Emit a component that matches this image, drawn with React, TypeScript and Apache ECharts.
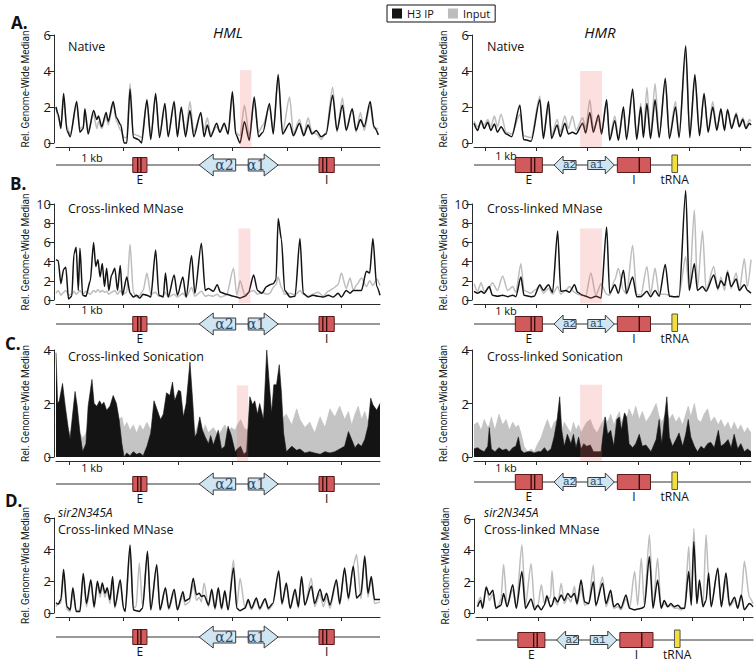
import React, { useEffect, useRef } from 'react';
import * as echarts from 'echarts';

// ---------------- DATA ----------------
// Positions in kb (0 = first 1-kb tick), values = relative genome-wide median

// A. Native, HML
const hmlNativeX = [-0.24,-0.20,-0.15,-0.10,-0.04,0.02,0.14,0.20,0.26,0.29,0.35,0.45,0.51,0.54,0.60,0.68,0.72,0.81,0.87,0.95,1.01,1.06,1.12,1.18,1.27,1.33,1.43,1.50,1.59,1.66,1.76,1.82,1.93,1.99,2.06,2.14,2.22,2.29,2.42,2.48,2.54,2.60,2.71,2.77,2.85,2.92,3.00,3.06,3.14,3.22,3.31,3.40,3.48,3.56,3.68,3.75,3.84,3.92,4.05,4.12,4.23,4.31,4.39,4.46,4.54,4.63,4.72,4.84,4.92,5.02,5.09,5.20,5.27,5.35,5.42,5.53,5.60,5.68];
const hmlNativeIP = [2.0,1.6,0.8,2.75,0.7,0.35,2.3,0.6,0.8,1.9,0.5,1.8,1.3,1.5,0.9,1.7,1.2,2.3,1.4,1.0,0.0,0.0,3.0,0.3,0.2,0.0,2.4,0.2,2.75,0.3,2.2,0.35,2.3,0.35,2.0,0.35,1.8,0.35,1.7,0.35,1.0,0.35,1.1,0.6,1.1,0.5,2.85,0.5,0.0,1.2,0.15,2.55,0.35,0.6,2.2,0.5,3.8,0.5,1.1,0.4,1.1,0.4,1.0,0.5,0.7,0.35,0.5,2.65,0.7,2.1,0.7,1.9,0.7,1.3,0.9,2.3,0.9,0.45];
const hmlNativeInput = [2.0,1.4,1.0,2.4,0.9,0.5,2.1,0.8,0.9,1.7,0.7,1.6,0.8,1.2,0.8,1.5,1.0,2.2,1.2,0.7,0.3,0.3,3.3,0.5,0.4,0.3,2.3,0.4,2.6,0.5,2.0,0.5,2.1,0.5,1.9,0.6,2.3,0.6,1.6,0.7,1.4,0.5,0.9,0.6,1.0,0.5,2.6,0.6,0.4,2.1,0.4,2.3,0.6,1.0,2.0,0.7,3.6,0.6,2.55,0.5,1.3,0.5,1.4,0.6,0.5,0.2,0.6,3.1,0.6,2.5,0.8,1.9,0.6,1.7,0.7,2.1,0.8,0.8];

// A. Native, HMR
const hmrNativeX = [-0.22,-0.15,-0.08,-0.02,0.05,0.11,0.18,0.24,0.31,0.41,0.52,0.68,0.75,0.90,1.07,1.14,1.24,1.30,1.41,1.47,1.56,1.63,1.71,1.78,1.91,1.97,2.05,2.12,2.22,2.28,2.38,2.44,2.54,2.61,2.71,2.77,2.89,2.97,3.05,3.10,3.17,3.24,3.33,3.41,3.53,3.61,3.73,3.80,3.93,4.01,4.11,4.20,4.29,4.37,4.46,4.54,4.62,4.69,4.75,4.83,4.92,4.98,5.05,5.11,5.18,5.21];
const hmrNativeIP = [1.1,0.7,1.25,0.8,1.15,0.7,1.05,0.6,0.9,0.5,0.35,2.1,0.2,0.1,2.4,0.25,2.3,0.25,1.0,0.35,1.1,0.5,0.6,0.5,1.1,0.55,1.7,0.6,1.55,0.5,2.4,0.15,1.25,0.15,2.0,0.2,3.0,0.2,2.0,0.3,2.2,0.25,2.4,0.3,3.6,0.25,2.0,0.3,5.4,0.3,3.8,0.4,2.75,0.6,2.0,0.7,1.9,0.7,1.85,0.8,1.6,0.9,1.3,0.8,1.1,1.0];
const hmrNativeInput = [1.2,0.9,1.1,1.0,1.3,0.9,1.5,0.9,1.6,0.6,0.5,1.6,0.4,0.3,2.6,0.4,2.0,0.4,1.3,0.6,1.5,0.8,1.5,0.7,1.4,0.8,2.4,0.8,1.3,0.6,2.2,0.3,1.5,0.3,1.7,0.3,2.8,0.3,2.2,0.4,3.1,0.4,3.3,0.4,3.4,0.4,2.3,0.4,5.0,0.5,3.6,0.5,2.6,0.7,2.3,0.8,1.8,0.8,1.9,0.9,1.7,1.0,1.4,0.9,1.3,1.2];

// B. Cross-linked MNase, HML
const hmlMnaseX = [-0.24,-0.20,-0.15,-0.10,-0.06,-0.01,0.05,0.09,0.13,0.17,0.20,0.25,0.31,0.39,0.45,0.49,0.53,0.57,0.61,0.65,0.69,0.73,0.78,0.84,0.89,0.94,0.98,1.06,1.12,1.18,1.24,1.30,1.36,1.43,1.50,1.59,1.65,1.73,1.77,1.82,1.93,1.99,2.09,2.15,2.25,2.31,2.43,2.50,2.56,2.65,2.72,2.78,2.89,3.02,3.08,3.14,3.23,3.29,3.39,3.46,3.54,3.63,3.69,3.75,3.80,3.84,3.90,3.96,4.06,4.15,4.24,4.30,4.39,4.48,4.57,4.67,4.76,4.85,4.94,5.00,5.09,5.16,5.22,5.28,5.37,5.46,5.52,5.58,5.65,5.71];
const hmlMnaseIP = [4.2,4.1,1.7,3.2,3.4,0.1,0.4,4.8,5.5,1.0,5.4,0.5,0.4,2.0,6.0,3.5,4.2,2.4,3.8,1.4,3.3,1.0,2.6,3.3,1.0,3.6,0.5,2.4,0.7,0.3,0.5,0.2,0.6,0.5,0.3,5.2,0.5,0.3,2.8,0.3,2.6,0.5,2.4,0.3,4.6,0.7,5.9,1.0,1.2,0.9,1.6,0.8,0.6,0.4,0.3,0.2,0.4,0.7,2.6,1.0,0.7,1.4,1.6,1.7,2.1,8.5,6.3,1.0,0.3,0.4,6.4,0.7,0.3,0.5,0.4,0.3,0.5,0.3,0.7,0.3,1.0,0.7,1.0,1.0,1.0,3.0,2.8,6.4,1.4,0.5];
const hmlMnaseInput = [0.7,1.0,0.5,0.8,1.0,0.5,0.6,0.9,0.6,0.8,1.0,0.6,0.9,0.6,1.0,0.8,1.1,0.8,1.0,0.8,0.9,0.6,0.8,1.0,0.6,1.0,0.6,0.8,5.8,0.8,0.3,0.5,1.0,2.8,0.6,0.8,0.4,0.5,0.8,0.3,0.6,0.3,0.7,0.3,1.3,0.4,0.9,0.4,0.5,0.4,0.6,0.3,0.5,3.3,0.5,2.0,0.5,0.8,1.0,0.6,0.8,0.6,0.7,1.3,1.6,2.4,1.3,0.6,0.7,0.5,1.0,0.6,0.4,0.6,0.8,0.4,0.9,1.2,1.6,2.8,1.2,2.3,1.0,1.6,2.3,1.4,2.0,1.5,2.2,1.5];

// B. Cross-linked MNase, HMR
const hmrMnaseX = [-0.22,-0.15,-0.08,-0.02,0.08,0.14,0.24,0.34,0.44,0.54,0.60,0.70,0.76,0.90,0.96,1.07,1.14,1.24,1.32,1.42,1.48,1.58,1.65,1.75,1.81,1.91,1.97,2.07,2.17,2.27,2.38,2.44,2.54,2.61,2.71,2.77,2.89,2.97,3.05,3.17,3.24,3.33,3.41,3.53,3.61,3.71,3.80,3.93,4.00,4.10,4.16,4.26,4.33,4.48,4.56,4.62,4.69,4.75,4.82,4.92,4.98,5.08,5.14,5.21];
const hmrMnaseIP = [0.9,0.7,0.9,0.7,1.4,0.5,0.4,0.5,0.35,0.5,0.35,2.4,0.5,0.35,0.4,1.6,1.0,1.6,0.8,7.2,0.9,1.0,0.8,1.6,0.8,0.5,0.4,0.2,0.4,0.2,7.6,0.7,1.6,0.7,3.1,0.7,2.4,0.35,0.35,0.9,0.35,1.0,0.4,3.7,0.4,0.35,0.35,11.4,1.0,3.8,1.0,1.4,0.9,2.6,1.2,2.0,1.5,2.9,1.4,2.2,1.0,1.6,1.0,0.7];
const hmrMnaseInput = [1.7,0.9,1.8,0.9,1.3,1.8,1.0,2.5,1.0,1.4,0.8,3.8,1.0,0.7,1.0,1.4,0.7,1.2,0.6,1.4,0.6,1.0,1.4,0.8,0.6,0.5,0.4,2.8,0.5,1.7,0.6,0.5,2.1,3.3,1.0,0.6,5.7,0.6,0.5,3.5,0.6,3.3,0.6,0.6,0.5,0.3,0.5,4.5,1.0,9.4,1.2,7.2,1.0,3.5,1.0,2.4,1.0,3.1,1.2,2.8,1.0,4.3,1.4,4.2];

// C. Cross-linked Sonication, HML
const hmlSonicX = [-0.24,-0.21,-0.18,-0.12,-0.07,-0.01,0.02,0.05,0.11,0.15,0.20,0.25,0.31,0.35,0.42,0.46,0.51,0.56,0.60,0.64,0.69,0.75,0.81,0.87,0.92,0.97,1.01,1.06,1.12,1.18,1.24,1.30,1.36,1.43,1.50,1.56,1.62,1.68,1.73,1.79,1.85,1.90,1.94,2.01,2.05,2.10,2.15,2.22,2.27,2.31,2.35,2.40,2.45,2.50,2.56,2.60,2.65,2.74,2.80,2.86,2.92,2.98,3.05,3.09,3.15,3.21,3.26,3.32,3.37,3.41,3.46,3.50,3.57,3.63,3.68,3.72,3.76,3.81,3.86,3.90,3.94,3.99,4.09,4.18,4.24,4.33,4.42,4.51,4.61,4.70,4.79,4.88,4.97,5.06,5.13,5.19,5.25,5.31,5.37,5.43,5.49,5.54,5.58,5.65,5.71];
const hmlSonicIP = [3.9,2.0,2.1,2.75,1.9,1.0,0.65,1.3,2.45,1.9,0.9,0.2,0.5,1.9,2.9,2.0,1.9,2.1,1.95,2.05,1.75,1.9,2.3,2.0,1.4,0.5,0.0,0.15,0.05,0.2,0.1,0.15,0.05,0.4,0.9,2.1,1.75,1.4,1.6,2.4,2.3,2.8,2.1,2.5,2.45,1.5,2.0,3.55,2.1,0.75,0.9,1.5,1.0,0.75,0.5,0.8,0.45,1.0,0.3,0.4,1.15,0.8,0.2,0.3,0.4,0.1,0.2,2.25,1.95,2.1,1.6,2.0,1.4,4.0,2.65,1.65,2.7,2.7,3.45,2.4,0.9,0.2,0.4,0.25,0.3,0.15,0.2,0.15,0.1,0.2,0.15,0.2,0.3,0.4,0.95,0.65,0.35,0.5,0.4,0.65,1.15,2.2,1.95,1.75,2.0];
const hmlSonicInput = [1.2,1.0,1.3,1.1,1.4,1.0,0.9,1.2,1.0,1.3,0.9,0.7,0.9,1.1,1.0,1.2,1.0,1.3,1.1,1.0,1.2,0.9,1.1,1.2,1.4,1.5,1.1,1.3,1.0,1.2,0.9,1.2,1.0,1.3,1.0,1.2,0.9,1.1,1.0,1.2,0.9,1.1,1.0,1.2,0.9,1.1,1.0,1.2,1.0,0.9,1.1,1.4,0.9,1.2,0.9,1.0,1.1,0.8,1.0,1.2,0.9,1.1,1.0,1.2,1.4,1.1,1.0,1.2,1.0,1.1,0.9,1.0,1.1,1.0,0.9,1.2,1.0,1.1,1.0,1.2,1.5,1.6,1.2,1.8,1.4,1.1,1.3,0.9,1.5,1.1,1.8,1.5,1.9,1.4,1.7,1.2,1.6,1.9,1.4,1.7,1.3,1.5,1.8,1.5,1.2];

// C. Cross-linked Sonication, HMR
const hmrSonicX = [-0.22,-0.15,-0.08,-0.02,0.05,0.08,0.12,0.19,0.27,0.34,0.41,0.47,0.54,0.60,0.65,0.70,0.76,0.83,0.90,0.96,1.03,1.09,1.16,1.22,1.29,1.35,1.41,1.46,1.50,1.55,1.61,1.68,1.73,1.78,1.83,1.88,1.93,1.99,2.06,2.12,2.19,2.27,2.35,2.40,2.46,2.52,2.58,2.63,2.67,2.73,2.77,2.82,2.89,2.95,3.02,3.08,3.15,3.25,3.35,3.41,3.46,3.56,3.61,3.67,3.74,3.80,3.87,3.93,3.98,4.03,4.10,4.16,4.23,4.29,4.36,4.42,4.49,4.57,4.62,4.69,4.76,4.82,4.88,4.95,5.01,5.08,5.14,5.21];
const hmrSonicIP = [0.3,0.35,0.25,0.2,0.4,1.1,0.3,0.2,0.35,0.25,0.3,0.2,0.35,0.4,0.75,0.25,0.15,0.2,0.2,0.15,0.2,0.2,0.35,0.2,0.3,0.75,1.4,2.25,1.0,0.4,0.85,0.5,0.85,0.35,0.75,0.3,0.5,0.4,0.45,0.2,0.2,0.2,1.5,0.85,1.0,0.4,1.4,1.5,1.0,1.65,1.5,0.5,0.35,0.5,0.85,0.4,0.45,0.2,0.65,1.4,0.5,2.25,0.75,0.4,0.65,0.9,0.4,0.85,1.4,0.75,0.4,0.2,0.4,0.3,0.5,0.55,0.35,1.0,0.4,0.5,0.65,0.35,0.85,0.3,0.5,0.2,0.3,0.2];
const hmrSonicInput = [1.2,1.3,1.0,1.4,1.1,1.2,1.5,1.0,1.6,1.2,1.4,1.0,1.3,1.1,1.2,0.9,0.4,0.2,0.3,0.2,0.5,0.7,1.1,1.4,1.0,1.3,1.4,1.2,1.0,1.3,1.1,0.9,1.3,1.0,1.2,0.9,1.1,1.3,1.4,1.1,0.9,1.2,1.5,1.3,1.6,1.2,1.5,1.7,1.3,1.6,1.4,1.8,1.5,1.9,1.4,1.7,1.3,1.6,2.0,1.5,1.3,1.7,1.4,1.6,1.3,1.5,1.2,1.6,1.9,1.5,2.0,1.4,1.3,1.6,1.8,1.3,1.5,1.2,1.4,1.1,1.3,1.0,1.3,1.0,1.2,0.9,1.1,0.9];

// D. sir2N345A Cross-linked MNase, HML
const hmlSirX = [-0.24,-0.20,-0.15,-0.10,-0.04,0.02,0.07,0.13,0.20,0.26,0.32,0.40,0.46,0.52,0.57,0.61,0.66,0.70,0.75,0.80,0.84,0.94,1.00,1.03,1.12,1.18,1.23,1.29,1.35,1.44,1.50,1.61,1.67,1.77,1.83,1.93,1.99,2.09,2.13,2.21,2.28,2.34,2.39,2.43,2.48,2.56,2.62,2.68,2.74,2.80,2.86,2.92,3.02,3.08,3.14,3.23,3.29,3.35,3.44,3.50,3.60,3.66,3.74,3.85,3.91,3.99,4.06,4.15,4.21,4.27,4.33,4.45,4.51,4.61,4.67,4.73,4.79,4.91,4.97,5.06,5.13,5.22,5.28,5.36,5.43,5.49,5.55,5.61,5.71];
const hmlSirIP = [0.65,0.55,0.85,2.75,0.4,0.2,1.6,0.1,0.1,2.5,0.6,2.1,0.4,2.0,1.25,1.9,1.25,1.6,0.85,2.3,0.4,2.1,0.3,0.1,4.3,0.2,0.15,0.1,0.3,3.9,0.2,3.05,0.2,1.6,0.3,1.5,0.2,1.35,0.75,0.9,2.2,1.15,1.25,1.05,1.1,0.5,1.5,0.3,1.6,0.3,1.4,0.2,2.85,0.3,0.15,0.3,0.85,0.3,0.95,0.3,0.9,0.3,0.6,2.65,0.6,1.9,0.3,1.5,0.4,2.3,0.5,1.7,0.6,1.5,0.75,1.25,0.5,2.1,0.6,2.85,0.95,2.95,0.95,1.2,3.6,1.25,2.3,0.85,0.85];
const hmlSirInput = [0.4,0.6,0.6,2.4,0.2,0.1,1.4,0.1,0.2,2.3,0.4,1.9,0.3,1.8,1.0,1.7,1.0,1.5,0.6,2.0,0.3,1.9,0.2,0.1,4.0,0.3,0.4,3.15,0.4,3.7,0.2,2.9,0.2,1.5,0.2,1.3,0.2,1.1,0.5,0.7,1.8,0.8,1.0,0.7,1.9,0.4,1.3,0.2,1.4,0.2,1.2,0.2,3.35,0.4,2.2,0.3,0.7,0.2,0.8,0.2,0.8,0.2,0.5,2.5,0.5,1.7,0.3,1.3,0.3,2.2,0.5,2.2,0.4,1.2,0.4,1.0,0.3,2.0,0.5,2.7,0.8,3.0,3.7,0.9,3.4,1.0,2.2,0.6,0.7];

// D. sir2N345A Cross-linked MNase, HMR
const hmrSirX = [-0.20,-0.14,-0.10,-0.03,0.03,0.10,0.16,0.21,0.26,0.31,0.38,0.49,0.56,0.67,0.74,0.85,0.92,0.98,1.05,1.11,1.16,1.23,1.26,1.31,1.37,1.44,1.50,1.57,1.63,1.70,1.75,1.83,1.90,1.98,2.07,2.12,2.25,2.32,2.41,2.47,2.55,2.61,2.71,2.78,2.88,2.94,3.01,3.07,3.17,3.24,3.33,3.40,3.46,3.53,3.59,3.66,3.73,3.79,3.86,3.94,3.99,4.04,4.10,4.15,4.22,4.28,4.33,4.38,4.51,4.58,4.67,4.74,4.84,4.90,4.97,5.03,5.13,5.20];
const hmrSirIP = [0.4,0.8,0.3,1.65,1.15,1.45,0.3,0.4,0.5,1.25,0.4,1.8,0.3,2.65,0.3,0.9,0.2,0.5,0.2,0.5,1.1,0.4,0.5,1.0,0.7,1.15,0.8,1.25,1.0,1.25,0.6,2.1,0.7,0.6,2.0,0.5,1.9,0.6,1.45,0.4,0.6,0.3,1.15,0.3,0.2,0.25,0.3,0.4,3.6,0.3,2.1,0.3,0.8,0.4,0.6,0.4,0.5,0.3,0.3,2.65,0.5,4.55,0.6,2.1,0.4,0.8,2.55,0.4,2.85,0.4,2.55,0.5,1.0,0.3,1.15,0.2,0.6,0.4];
const hmrSirInput = [0.6,1.0,0.4,1.7,0.8,1.2,0.3,0.5,0.9,3.1,0.5,1.5,0.4,4.35,0.5,3.15,0.4,0.4,1.8,0.6,0.8,1.0,2.7,0.8,0.5,1.9,0.6,1.0,0.7,1.7,0.5,1.6,0.5,0.6,3.05,0.4,2.3,0.4,1.15,0.3,0.4,0.2,0.9,0.3,2.65,0.5,3.5,0.5,5.0,0.4,3.5,0.3,0.6,0.4,0.5,0.3,0.3,0.2,0.3,4.25,0.6,5.4,0.6,1.8,0.5,5.0,2.2,0.5,2.75,0.4,2.1,0.4,0.8,0.3,1.0,3.3,1.0,0.6];

// Highlighted (pink) regions: [startKb, endKb, yLow, yHigh]
const hmlNativePink = [3.14, 3.35, -0.3, 4.05];
const hmrNativePink = [1.86, 2.29, -0.22, 4.0];
const hmlMnasePink = [3.11, 3.33, -0.35, 7.45];
const hmrMnasePink = [1.86, 2.29, -0.35, 7.45];
const hmlSonicPink = [3.08, 3.29, -0.16, 2.67];
const hmrSonicPink = [1.86, 2.29, -0.16, 2.7];

// Locus annotations (kb)
const hmlFeatures = [
  { kind: 'line', start: -0.24, end: 5.71 },
  { kind: 'box', start: 1.17, end: 1.43, bars: [1.26, 1.32], label: 'E' },
  { kind: 'arrowL', start: 2.39, end: 3.06, label: 'α2' },
  { kind: 'arrowR', start: 3.29, end: 3.84, label: 'α1' },
  { kind: 'box', start: 4.59, end: 4.87, bars: [4.66, 4.73], label: 'I' },
];
const hmrFeatures = [
  { kind: 'line', start: -0.22, end: 5.21 },
  { kind: 'box', start: 0.59, end: 1.12, bars: [0.90, 0.97], label: 'E' },
  { kind: 'arrowL', start: 1.35, end: 1.78, label: 'a2' },
  { kind: 'arrowR', start: 2.01, end: 2.53, label: 'a1' },
  { kind: 'box', start: 2.59, end: 3.24, bars: [3.02], label: 'I' },
  { kind: 'trna', start: 3.66, end: 3.77, label: 'tRNA' },
];

const KB_TICKS = [0, 1, 2, 3, 4, 5];
const Y_NAME = 'Rel. Genome-Wide Median';
const IP_NAME = 'H3 IP';
const INPUT_NAME = 'Input';

// ---------------- STYLE / LAYOUT ----------------
const BLACK = '#141414';
const GREY = '#bdbdbd';
const AXIS = '#2a2a2a';

const hmlStyle = { boxH: 7.5, bodyH: 6, headH: 11, headLen: 14, arrowFont: '14px "DejaVu Serif"', trnaTop: 11 };
const hmrStyle = { boxH: 7.5, bodyH: 4.5, headH: 9, headLen: 9, arrowFont: '11px "Liberation Mono"', trnaTop: 10 };

const zip = (xs: number[], ys: number[]) => xs.map((x, i) => [x, ys[i]]);

function geneRenderer(feats: any[], st: any) {
  return (params: any, api: any) => {
    const f = feats[params.dataIndex];
    const a = api.coord([api.value(0), 0]);
    const b = api.coord([api.value(1), 0]);
    const y = a[1];
    const x0 = a[0];
    const x1 = b[0];
    const children: any[] = [];
    const labelBelow = (cx: number, text: string) => ({
      type: 'text', x: cx, y: y + 14.5,
      style: { text, fill: '#111', font: '12px "Open Sans"', align: 'center', verticalAlign: 'middle' },
    });
    if (f.kind === 'line') {
      children.push({ type: 'line', shape: { x1: x0, y1: y, x2: x1, y2: y }, style: { stroke: '#333', lineWidth: 1 } });
    } else if (f.kind === 'box') {
      children.push({ type: 'rect', shape: { x: x0, y: y - st.boxH, width: x1 - x0, height: st.boxH * 2 }, style: { fill: '#d05a5c', stroke: '#5a1a1a', lineWidth: 1 } });
      (f.bars || []).forEach((bk: number) => {
        const p = api.coord([bk, 0]);
        children.push({ type: 'line', shape: { x1: p[0], y1: y - st.boxH, x2: p[0], y2: y + st.boxH }, style: { stroke: '#2e0a0a', lineWidth: 1.3 } });
      });
      children.push(labelBelow((x0 + x1) / 2, f.label));
    } else if (f.kind === 'arrowL' || f.kind === 'arrowR') {
      const h = st.headLen, bh = st.bodyH, hh = st.headH;
      let pts: number[][];
      let cx: number;
      if (f.kind === 'arrowL') {
        pts = [[x0, y], [x0 + h, y - hh], [x0 + h, y - bh], [x1, y - bh], [x1, y + bh], [x0 + h, y + bh], [x0 + h, y + hh]];
        cx = (x0 + h + x1) / 2;
      } else {
        pts = [[x1, y], [x1 - h, y - hh], [x1 - h, y - bh], [x0, y - bh], [x0, y + bh], [x1 - h, y + bh], [x1 - h, y + hh]];
        cx = (x0 + x1 - h) / 2;
      }
      children.push({ type: 'polygon', shape: { points: pts }, style: { fill: '#cfe5f2', stroke: '#3a3a3a', lineWidth: 1 } });
      children.push({ type: 'text', x: cx, y: y, style: { text: f.label, fill: '#2a4a66', font: st.arrowFont, align: 'center', verticalAlign: 'middle' } });
    } else if (f.kind === 'trna') {
      children.push({ type: 'rect', shape: { x: x0, y: y - st.trnaTop, width: x1 - x0, height: st.trnaTop + st.boxH }, style: { fill: '#f3df3c', stroke: '#555', lineWidth: 1 } });
      children.push(labelBelow((x0 + x1) / 2, f.label));
    }
    return { type: 'group', children };
  };
}

const panels = [
  { left: 56, top: 35, width: 324, height: 108, xMin: -0.24, xMax: 5.71, yMax: 6, x: hmlNativeX, ip: hmlNativeIP, inp: hmlNativeInput, area: false, pink: hmlNativePink, geneY: 165, feats: hmlFeatures, st: hmlStyle },
  { left: 474, top: 35, width: 277, height: 108, xMin: -0.22, xMax: 5.21, yMax: 6, x: hmrNativeX, ip: hmrNativeIP, inp: hmrNativeInput, area: false, pink: hmrNativePink, geneY: 165, feats: hmrFeatures, st: hmrStyle },
  { left: 56, top: 204, width: 324, height: 96, xMin: -0.24, xMax: 5.71, yMax: 10, x: hmlMnaseX, ip: hmlMnaseIP, inp: hmlMnaseInput, area: false, pink: hmlMnasePink, geneY: 324, feats: hmlFeatures, st: hmlStyle },
  { left: 474, top: 204, width: 277, height: 96, xMin: -0.22, xMax: 5.21, yMax: 10, x: hmrMnaseX, ip: hmrMnaseIP, inp: hmrMnaseInput, area: false, pink: hmrMnasePink, geneY: 324, feats: hmrFeatures, st: hmrStyle },
  { left: 56, top: 350, width: 324, height: 107, xMin: -0.24, xMax: 5.71, yMax: 4, x: hmlSonicX, ip: hmlSonicIP, inp: hmlSonicInput, area: true, pink: hmlSonicPink, geneY: 484, feats: hmlFeatures, st: hmlStyle },
  { left: 474, top: 350, width: 277, height: 107, xMin: -0.22, xMax: 5.21, yMax: 4, x: hmrSonicX, ip: hmrSonicIP, inp: hmrSonicInput, area: true, pink: hmrSonicPink, geneY: 482, feats: hmrFeatures, st: hmrStyle },
  { left: 56, top: 518, width: 324, height: 95, xMin: -0.24, xMax: 5.71, yMax: 6, x: hmlSirX, ip: hmlSirIP, inp: hmlSirInput, area: false, pink: null, geneY: 637, feats: hmlFeatures, st: hmlStyle },
  { left: 476, top: 519, width: 277, height: 94, xMin: -0.23, xMax: 5.20, yMax: 6, x: hmrSirX, ip: hmrSirIP, inp: hmrSirInput, area: false, pink: null, geneY: 640, feats: hmrFeatures, st: hmrStyle },
];

function buildOption() {
  const grid: any[] = [];
  const xAxis: any[] = [];
  const yAxis: any[] = [];
  const series: any[] = [];
  const n = panels.length;

  panels.forEach((p, i) => {
    grid.push({ left: p.left, top: p.top, width: p.width, height: p.height });
    xAxis.push({
      gridIndex: i, type: 'value', min: p.xMin, max: p.xMax, offset: 4,
      axisLine: { show: true, onZero: false, lineStyle: { color: AXIS, width: 1 } },
      axisTick: { show: true, customValues: KB_TICKS, length: 4, lineStyle: { color: AXIS } },
      axisLabel: { show: false }, splitLine: { show: false },
    });
    yAxis.push({
      gridIndex: i, type: 'value', min: 0, max: p.yMax, interval: 2, offset: 2,
      name: Y_NAME, nameLocation: 'middle', nameGap: 24, nameRotate: 90,
      nameTextStyle: { fontFamily: 'Roboto', fontSize: 10, color: '#1a1a1a' },
      axisLine: { show: true, onZero: false, lineStyle: { color: AXIS, width: 1 } },
      axisTick: { show: true, length: 6, lineStyle: { color: AXIS } },
      axisLabel: { fontSize: 13, color: '#1a1a1a', margin: 3, fontFamily: 'Open Sans' },
      splitLine: { show: false },
    });
  });
  panels.forEach((p, i) => {
    grid.push({ left: p.left, top: p.geneY - 15, width: p.width, height: 30 });
    xAxis.push({ gridIndex: n + i, type: 'value', min: p.xMin, max: p.xMax, show: false });
    yAxis.push({ gridIndex: n + i, type: 'value', min: -1, max: 1, show: false });
  });

  panels.forEach((p, i) => {
    series.push({
      type: 'line', name: INPUT_NAME, xAxisIndex: i, yAxisIndex: i, data: zip(p.x, p.inp),
      showSymbol: false, symbol: 'none', color: GREY, clip: false, silent: true, z: 2,
      smooth: p.area ? false : 0.25, smoothMonotone: 'x',
      lineStyle: { color: GREY, width: p.area ? 0.6 : 1.5 },
      areaStyle: p.area ? { color: '#c4c4c4', opacity: 1 } : undefined,
    });
    series.push({
      type: 'line', name: IP_NAME, xAxisIndex: i, yAxisIndex: i, data: zip(p.x, p.ip),
      showSymbol: false, symbol: 'none', color: BLACK, clip: false, silent: true, z: 3,
      smooth: p.area ? false : 0.25, smoothMonotone: 'x',
      lineStyle: { color: BLACK, width: p.area ? 0.6 : 1.5 },
      areaStyle: p.area ? { color: BLACK, opacity: 1 } : undefined,
    });
    if (p.pink) {
      series.push({
        type: 'custom', xAxisIndex: i, yAxisIndex: i, data: [p.pink], clip: false, silent: true, z: 5,
        encode: { x: [0, 1], y: [2, 3] },
        renderItem: (_params: any, api: any) => {
          const a = api.coord([api.value(0), api.value(3)]);
          const b = api.coord([api.value(1), api.value(2)]);
          return { type: 'rect', shape: { x: a[0], y: a[1], width: b[0] - a[0], height: b[1] - a[1] }, style: { fill: 'rgba(240,95,95,0.2)' } };
        },
      });
    }
    series.push({
      type: 'custom', xAxisIndex: n + i, yAxisIndex: n + i, clip: false, silent: true, z: 4,
      data: p.feats.map((f: any) => [f.start, f.end]),
      encode: { x: [0, 1] },
      renderItem: geneRenderer(p.feats, p.st),
    });
  });

  const t = (text: string, x: number, y: number, font: string, align = 'left') => ({
    type: 'text', x, y, silent: true,
    style: { text, font, fill: '#111', align, verticalAlign: 'middle' },
  });
  const TITLE = '12.5px "Open Sans"';
  const LETTER = 'bold 17px "Open Sans"';
  const KB = '11px "Open Sans"';
  const graphic = [
    t('A.', 11, 22, LETTER), t('B.', 10, 183, LETTER), t('C.', 5, 343, LETTER), t('D.', 5, 500, LETTER),
    t('HML', 228, 32, 'italic 15px "Open Sans"', 'center'),
    t('HMR', 600, 32, 'italic 15px "Open Sans"', 'center'),
    t('Native', 68, 46, TITLE), t('Native', 487, 46, TITLE),
    t('Cross-linked MNase', 68, 208, TITLE), t('Cross-linked MNase', 487, 208, TITLE),
    t('Cross-linked Sonication', 68, 356, TITLE), t('Cross-linked Sonication', 487, 356, TITLE),
    t('sir2N345A', 58, 512.5, 'italic 12px "Open Sans"'), t('Cross-linked MNase', 58, 529.5, TITLE),
    t('sir2N345A', 484, 512.5, 'italic 12px "Open Sans"'), t('Cross-linked MNase', 484, 529.5, TITLE),
    t('1 kb', 92, 157, KB, 'center'), t('1 kb', 506, 155, KB, 'center'),
    t('1 kb', 92, 309, KB, 'center'), t('1 kb', 506, 310, KB, 'center'),
    t('1 kb', 92, 467, KB, 'center'), t('1 kb', 506, 467, KB, 'center'),
  ];

  return {
    animation: false,
    backgroundColor: '#ffffff',
    textStyle: { fontFamily: 'Open Sans' },
    legend: {
      left: 387, top: 5, icon: 'rect', itemWidth: 10, itemHeight: 10, itemGap: 14,
      padding: [3, 5], borderColor: '#111', borderWidth: 1, selectedMode: false,
      textStyle: { fontSize: 11, fontFamily: 'Open Sans', color: '#111' },
      data: [
        { name: IP_NAME, itemStyle: { color: BLACK } },
        { name: INPUT_NAME, itemStyle: { color: GREY } },
      ],
    },
    grid, xAxis, yAxis, series, graphic,
  };
}

export default function App() {
  const ref = useRef<HTMLDivElement>(null);
  useEffect(() => {
    if (!ref.current) return;
    const chart = echarts.init(ref.current, undefined, { renderer: 'svg' });
    chart.setOption(buildOption() as any);
    return () => chart.dispose();
  }, []);
  return <div ref={ref} style={{ position: 'fixed', left: 0, top: 0, width: 754, height: 663, background: '#fff' }} />;
}
